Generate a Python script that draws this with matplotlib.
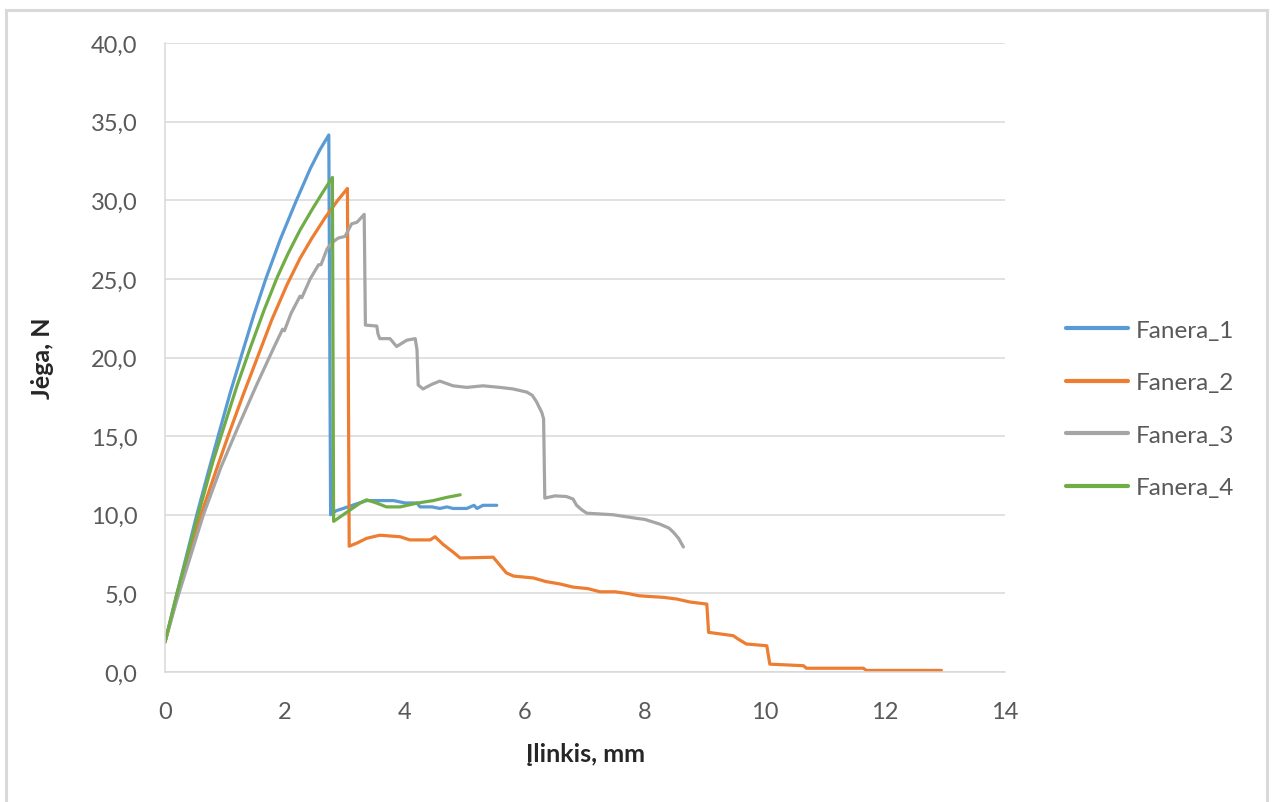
import matplotlib
matplotlib.use("Agg")
import matplotlib.pyplot as plt
from matplotlib.patches import Rectangle

# ---- data ----
f1_x = [0, 0.2, 0.53, 0.72, 0.9, 1.09, 1.28, 1.48, 1.68, 1.92, 2.18, 2.42, 2.58, 2.73,
        2.76, 2.85, 2.97, 3.2, 3.36, 3.6, 3.81, 4.0, 4.2, 4.25, 4.45, 4.58, 4.7, 4.8,
        5.03, 5.15, 5.2, 5.3, 5.53]
f1_y = [1.9, 5.0, 10.0, 12.7, 15.2, 17.8, 20.2, 22.7, 25.0, 27.5, 29.9, 32.0, 33.2, 34.15,
        10.0, 10.25, 10.4, 10.7, 10.9, 10.9, 10.9, 10.75, 10.75, 10.5, 10.5, 10.4, 10.5, 10.4,
        10.4, 10.6, 10.4, 10.6, 10.6]

f2_x = [0, 0.2, 0.6, 0.85, 1.06, 1.3, 1.54, 1.78, 2.03, 2.25, 2.45, 2.67, 2.88, 3.04,
        3.07, 3.2, 3.36, 3.58, 3.92, 4.08, 4.42, 4.5, 4.64, 4.81, 4.92, 5.47, 5.58,
        5.69, 5.81, 6.14, 6.35, 6.58, 6.8, 7.05, 7.25, 7.5, 7.7, 7.9, 8.08, 8.3, 8.53,
        8.75, 9.03, 9.06, 9.47, 9.55, 9.69, 10.03, 10.08, 10.64, 10.69, 11.64, 11.69, 12.94]
f2_y = [1.9, 4.8, 10.0, 12.8, 15.1, 17.6, 20.0, 22.4, 24.6, 26.3, 27.6, 28.9, 30.0, 30.75,
        8.0, 8.2, 8.5, 8.7, 8.6, 8.4, 8.4, 8.6, 8.1, 7.6, 7.25, 7.3, 6.8,
        6.3, 6.1, 5.98, 5.75, 5.6, 5.4, 5.3, 5.1, 5.1, 5.0, 4.85, 4.8, 4.75, 4.64,
        4.45, 4.32, 2.52, 2.31, 2.1, 1.78, 1.67, 0.5, 0.4, 0.24, 0.24, 0.1, 0.1]

f3_x = [0, 0.2, 0.64, 0.93, 1.22, 1.52, 1.81, 1.96, 1.99, 2.1, 2.25, 2.28, 2.42, 2.56, 2.6,
        2.7, 2.78, 2.89, 3.0, 3.11, 3.2, 3.32, 3.34, 3.53, 3.55, 3.58, 3.75, 3.86, 4.03, 4.17,
        4.2, 4.22, 4.3, 4.45, 4.58, 4.8, 5.03, 5.3, 5.58, 5.8, 6.03, 6.12, 6.19, 6.28,
        6.31, 6.33, 6.5, 6.69, 6.8, 6.86, 6.95, 7.03, 7.47, 7.81, 8.0, 8.25, 8.4, 8.47, 8.56, 8.64]
f3_y = [1.9, 4.6, 10.0, 13.0, 15.6, 18.2, 20.6, 21.8, 21.7, 22.8, 23.9, 23.8, 25.0, 25.9, 25.9,
        26.9, 27.3, 27.6, 27.7, 28.5, 28.6, 29.1, 22.06, 22.0, 21.5, 21.2, 21.2, 20.7, 21.1, 21.2,
        20.5, 18.25, 18.0, 18.3, 18.5, 18.2, 18.1, 18.2, 18.1, 18.0, 17.8, 17.6, 17.2, 16.5,
        16.1, 11.06, 11.2, 11.16, 11.0, 10.6, 10.3, 10.1, 10.0, 9.8, 9.7, 9.4, 9.15, 8.9, 8.5, 7.95]

f4_x = [0, 0.2, 0.56, 0.8, 1.0, 1.2, 1.42, 1.65, 1.87, 2.05, 2.25, 2.45, 2.62, 2.79,
        2.81, 2.97, 3.25, 3.36, 3.53, 3.69, 3.92, 4.2, 4.47, 4.69, 4.92]
f4_y = [1.9, 5.0, 10.1, 13.4, 15.8, 18.2, 20.6, 23.0, 25.1, 26.6, 28.1, 29.4, 30.45, 31.45,
        9.58, 10.0, 10.74, 10.95, 10.74, 10.5, 10.5, 10.74, 10.9, 11.1, 11.27]

series_names = ["Fanera_1", "Fanera_2", "Fanera_3", "Fanera_4"]
x_ticks = [0, 2, 4, 6, 8, 10, 12, 14]
y_ticks = [0, 5, 10, 15, 20, 25, 30, 35, 40]
x_label = "Įlinkis, mm"
y_label = "Jėga, N"

colors = ["#5B9BD5", "#ED7D31", "#A5A5A5", "#70AD47"]
text_color = "#595959"
grid_color = "#D9D9D9"

plt.rcParams['font.family'] = ['Lato', 'DejaVu Sans']

fig = plt.figure(figsize=(12.75, 8.03), dpi=100)
ax = fig.add_axes([165/1275, 1-673/803, (1005-165)/1275, (673-44)/803])

for xs, ys, c, n in zip([f1_x, f2_x, f3_x, f4_x], [f1_y, f2_y, f3_y, f4_y], colors, series_names):
    ax.plot(xs, ys, color=c, lw=2.3, label=n, solid_joinstyle='round', solid_capstyle='round')

ax.set_xlim(0, 14)
ax.set_ylim(0, 40)
ax.set_xticks(x_ticks)
ax.set_yticks(y_ticks)
ax.set_xticklabels([str(t) for t in x_ticks])
ax.set_yticklabels([f"{t:.1f}".replace('.', ',') for t in y_ticks])
ax.tick_params(axis='both', length=0, labelsize=17, colors=text_color)
ax.tick_params(axis='y', pad=20)
ax.tick_params(axis='x', pad=21)
ax.grid(axis='y', color=grid_color, lw=1.1)
ax.set_axisbelow(True)
for s in ['top', 'right']:
    ax.spines[s].set_visible(False)
for s in ['left', 'bottom']:
    ax.spines[s].set_color(grid_color)
    ax.spines[s].set_linewidth(1.1)

ax.set_xlabel(x_label, fontsize=18, fontweight='bold', color='#262626', labelpad=14)
ax.set_ylabel(y_label, fontsize=18, fontweight='bold', color='#262626', labelpad=26)

leg = ax.legend(loc='center left', bbox_to_anchor=(1066/1275, 1-410/803), bbox_transform=fig.transFigure,
                frameon=False, fontsize=17.5, labelcolor=text_color, handlelength=2.55,
                handletextpad=0.3, labelspacing=1.3, borderpad=0, borderaxespad=0)
for h in leg.get_lines():
    h.set_linewidth(3)

fig.patches.append(Rectangle((6/1275, -0.05), (1267-6)/1275, 1.05 - 11/803,
                             transform=fig.transFigure, fill=False,
                             edgecolor=grid_color, lw=2.2))

fig.savefig("out.png", dpi=100)
